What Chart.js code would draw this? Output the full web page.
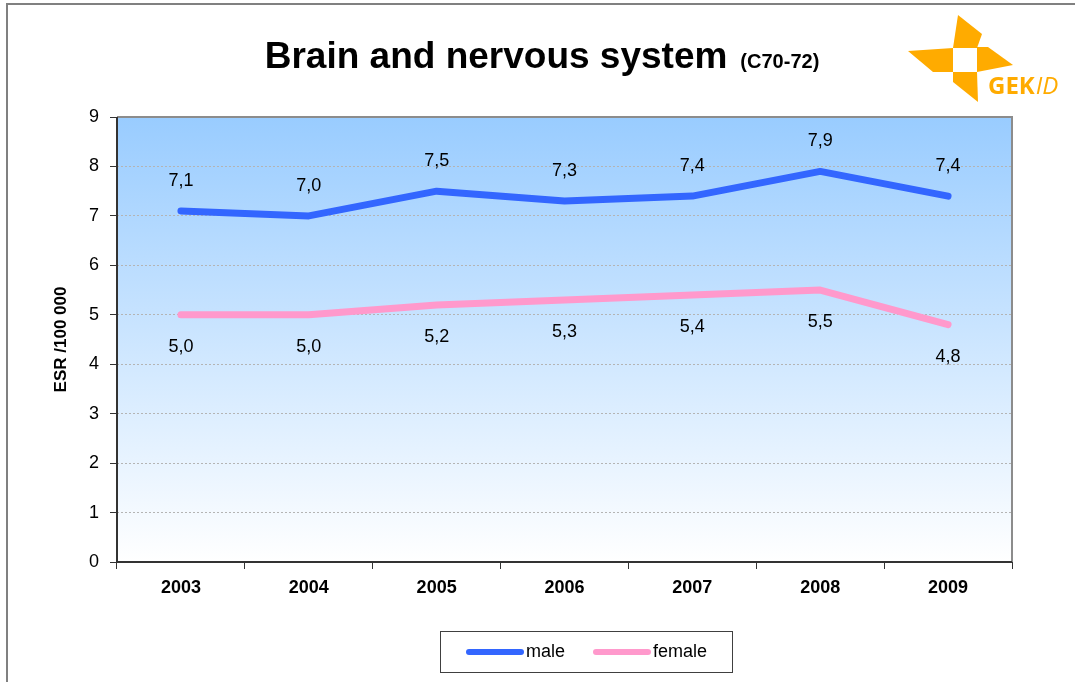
<!DOCTYPE html>
<html>
<head>
<meta charset="utf-8">
<title>Brain and nervous system (C70-72)</title>
<script src="https://cdn.jsdelivr.net/npm/chart.js@4/dist/chart.umd.min.js"></script>
<style>
  html, body { margin: 0; padding: 0; background: #fff; }
  #c { display: block; }
</style>
</head>
<body>
<canvas id="c" width="1075" height="682"></canvas>
<script>
// ESR per 100 000, brain and nervous system (C70-72)
const years = ['2003', '2004', '2005', '2006', '2007', '2008', '2009'];
const maleRates = [7.1, 7.0, 7.5, 7.3, 7.4, 7.9, 7.4];
const femaleRates = [5.0, 5.0, 5.2, 5.3, 5.4, 5.5, 4.8];
const yMin = 0, yMax = 9, yStep = 1;

const FONT = '"Liberation Sans", Arial, Helvetica, sans-serif';
const MALE_COL = '#3366ff';
const FEMALE_COL = '#ff99cc';
const LOGO_COL = '#ffab00';
const AXIS_COL = '#333';

const fmt = v => v.toFixed(1).replace('.', ',');

// gradient plot background + outline of the plot area
const plotBg = {
  id: 'plotBg',
  beforeDraw(chart) {
    const { ctx, chartArea: a } = chart;
    const g = ctx.createLinearGradient(0, a.top, 0, a.bottom);
    g.addColorStop(0, '#99ccff');
    g.addColorStop(1, '#ffffff');
    ctx.save();
    ctx.fillStyle = g;
    ctx.fillRect(a.left, a.top, a.right - a.left, a.bottom - a.top);
    ctx.restore();
  },
  beforeDatasetsDraw(chart) {
    const { ctx, chartArea: a } = chart;
    ctx.save();
    ctx.lineWidth = 2;
    // top and right edges in grey
    ctx.strokeStyle = '#8c8c8c';
    ctx.beginPath();
    ctx.moveTo(a.left, a.top);
    ctx.lineTo(a.right, a.top);
    ctx.lineTo(a.right, a.bottom);
    ctx.stroke();
    // solid axis lines on the left and bottom
    ctx.strokeStyle = AXIS_COL;
    ctx.beginPath();
    ctx.moveTo(a.left, a.top);
    ctx.lineTo(a.left, a.bottom);
    ctx.lineTo(a.right, a.bottom);
    ctx.stroke();
    ctx.restore();
  }
};

// value labels: male above the line, female below
const valueLabels = {
  id: 'valueLabels',
  afterDatasetsDraw(chart) {
    const { ctx } = chart;
    ctx.save();
    ctx.font = '18px ' + FONT;
    ctx.fillStyle = '#000';
    ctx.textAlign = 'center';
    ctx.textBaseline = 'middle';
    chart.data.datasets.forEach((ds, i) => {
      const dy = i === 0 ? -30 : 32;
      chart.getDatasetMeta(i).data.forEach((pt, j) => {
        ctx.fillText(fmt(ds.data[j]), pt.x, pt.y + dy);
      });
    });
    ctx.restore();
  }
};

// title, axis title, legend box, logo and page frame
const decor = {
  id: 'decor',
  afterDraw(chart) {
    const { ctx, chartArea: a } = chart;
    ctx.save();

    // frame
    ctx.strokeStyle = '#808080';
    ctx.lineWidth = 2;
    ctx.beginPath();
    ctx.moveTo(7, 682);
    ctx.lineTo(7, 4);
    ctx.lineTo(1075, 4);
    ctx.stroke();

    // title
    ctx.fillStyle = '#000';
    ctx.textBaseline = 'alphabetic';
    ctx.textAlign = 'left';
    ctx.font = 'bold 37px ' + FONT;
    const t1 = 'Brain and nervous system';
    const w1 = ctx.measureText(t1).width;
    ctx.font = 'bold 20px ' + FONT;
    const t2 = '(C70-72)';
    const w2 = ctx.measureText(t2).width;
    const gap = 13;
    const x0 = 542 - (w1 + gap + w2) / 2;
    ctx.font = 'bold 37px ' + FONT;
    ctx.fillText(t1, x0, 68);
    ctx.font = 'bold 20px ' + FONT;
    ctx.fillText(t2, x0 + w1 + gap, 68);

    // y axis title
    ctx.save();
    ctx.translate(61, (a.top + a.bottom) / 2);
    ctx.rotate(-Math.PI / 2);
    ctx.textAlign = 'center';
    ctx.textBaseline = 'middle';
    ctx.font = 'bold 17px ' + FONT;
    ctx.fillText('ESR /100 000', 0, 0);
    ctx.restore();

    // legend
    ctx.fillStyle = '#fff';
    ctx.fillRect(440, 631, 292, 41);
    ctx.strokeStyle = '#404040';
    ctx.lineWidth = 1;
    ctx.strokeRect(440.5, 631.5, 292, 41);
    const items = chart.data.datasets.map(ds => ({ label: ds.label, color: ds.borderColor }));
    const lx = [469, 596];
    items.forEach((it, i) => {
      ctx.strokeStyle = it.color;
      ctx.lineWidth = 6;
      ctx.lineCap = 'round';
      ctx.beginPath();
      ctx.moveTo(lx[i], 652);
      ctx.lineTo(lx[i] + 52, 652);
      ctx.stroke();
      ctx.fillStyle = '#000';
      ctx.font = '18px ' + FONT;
      ctx.textAlign = 'left';
      ctx.textBaseline = 'middle';
      ctx.fillText(it.label, lx[i] + 57, 652);
    });

    // GEKID logo
    ctx.fillStyle = LOGO_COL;
    const blades = [
      [[958, 15], [982, 34], [977, 48], [953, 48]],
      [[908, 51], [953, 48], [953, 72], [933, 72]],
      [[977, 47], [988, 47], [1013, 65], [977, 72]],
      [[953, 72], [977, 72], [978, 102], [953, 82]]
    ];
    blades.forEach(b => {
      ctx.beginPath();
      ctx.moveTo(b[0][0], b[0][1]);
      b.slice(1).forEach(p => ctx.lineTo(p[0], p[1]));
      ctx.closePath();
      ctx.fill();
    });
    ctx.textAlign = 'left';
    ctx.textBaseline = 'alphabetic';
    ctx.font = 'bold 24px "Open Sans", ' + FONT;
    ctx.fillText('GEK', 988, 94);
    const wg = ctx.measureText('GEK').width;
    ctx.font = 'italic 24px "Open Sans", ' + FONT;
    ctx.fillText('ID', 988 + wg + 1, 94);

    ctx.restore();
  }
};

new Chart(document.getElementById('c'), {
  type: 'line',
  data: {
    labels: years,
    datasets: [
      { label: 'male', data: maleRates, borderColor: MALE_COL, backgroundColor: MALE_COL },
      { label: 'female', data: femaleRates, borderColor: FEMALE_COL, backgroundColor: FEMALE_COL }
    ]
  },
  options: {
    responsive: false,
    animation: false,
    devicePixelRatio: 1,
    layout: { padding: { top: 117, right: 63, left: 0, bottom: 0 } },
    elements: {
      line: { borderWidth: 7, tension: 0, borderCapStyle: 'round', borderJoinStyle: 'round' },
      point: { radius: 0, hoverRadius: 0 }
    },
    plugins: {
      legend: { display: false },
      title: { display: false },
      tooltip: { enabled: false }
    },
    scales: {
      x: {
        offset: true,
        afterFit: s => { s.height = 120; },
        grid: { display: true, offset: true, drawOnChartArea: false, tickLength: 7, color: AXIS_COL },
        border: { display: false },
        ticks: { color: '#000', padding: 8, font: { family: FONT, size: 18, weight: 'bold' } }
      },
      y: {
        min: yMin, max: yMax,
        afterFit: s => { s.width = 117; },
        grid: { color: '#b4b4b4', tickLength: 7, tickColor: AXIS_COL, tickBorderDash: [8, 0] },
        border: { display: false, dash: [2, 2] },
        ticks: { stepSize: yStep, color: '#000', padding: 11, font: { family: FONT, size: 18 } }
      }
    }
  },
  plugins: [plotBg, valueLabels, decor]
});
</script>
</body>
</html>
